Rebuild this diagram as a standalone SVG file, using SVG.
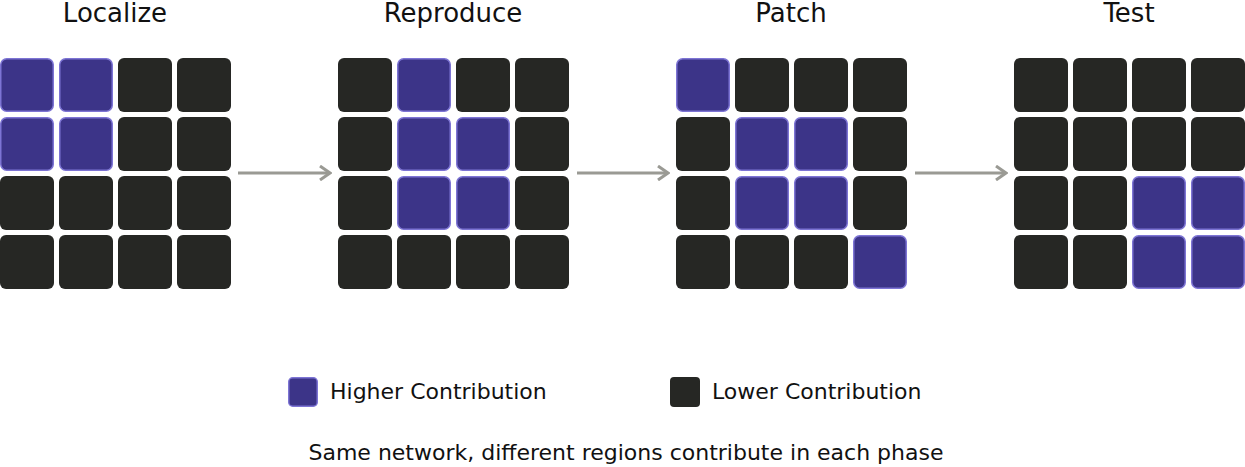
<svg xmlns="http://www.w3.org/2000/svg" width="1245" height="467" viewBox="0 0 1245 467">
<defs>
<style>
.h{fill:#3c3488;stroke:#7d74d4;stroke-width:1.5}
.l{fill:#262724}
.t{font-family:"DejaVu Sans",sans-serif;font-size:26px;fill:#111;text-anchor:middle}
.g{font-family:"DejaVu Sans",sans-serif;font-size:22px;fill:#111}
.a{stroke:#9a9a94;stroke-width:3;fill:none}
</style>
<symbol id="c"><rect width="54" height="54" rx="6"/></symbol>
<marker id="m" markerWidth="14" markerHeight="16" refX="12" refY="8" orient="auto" markerUnits="userSpaceOnUse"><path d="M2,1 L12,8 L2,15" fill="none" stroke="#9a9a94" stroke-width="3"/></marker>
</defs>
<rect width="1245" height="467" fill="#fff"/>
<g id="localize">
<text class="t" x="115" y="22">Localize</text>
<rect class="h" x="0.75" y="58.75" width="52.5" height="52.5" rx="6"/><rect class="h" x="59.75" y="58.75" width="52.5" height="52.5" rx="6"/><rect class="l" x="118" y="58" width="54" height="54" rx="6"/><rect class="l" x="177" y="58" width="54" height="54" rx="6"/>
<rect class="h" x="0.75" y="117.75" width="52.5" height="52.5" rx="6"/><rect class="h" x="59.75" y="117.75" width="52.5" height="52.5" rx="6"/><rect class="l" x="118" y="117" width="54" height="54" rx="6"/><rect class="l" x="177" y="117" width="54" height="54" rx="6"/>
<rect class="l" x="0" y="176" width="54" height="54" rx="6"/><rect class="l" x="59" y="176" width="54" height="54" rx="6"/><rect class="l" x="118" y="176" width="54" height="54" rx="6"/><rect class="l" x="177" y="176" width="54" height="54" rx="6"/>
<rect class="l" x="0" y="235" width="54" height="54" rx="6"/><rect class="l" x="59" y="235" width="54" height="54" rx="6"/><rect class="l" x="118" y="235" width="54" height="54" rx="6"/><rect class="l" x="177" y="235" width="54" height="54" rx="6"/>
</g>
<g id="reproduce">
<text class="t" x="453" y="22">Reproduce</text>
<rect class="l" x="338" y="58" width="54" height="54" rx="6"/><rect class="h" x="397.75" y="58.75" width="52.5" height="52.5" rx="6"/><rect class="l" x="456" y="58" width="54" height="54" rx="6"/><rect class="l" x="515" y="58" width="54" height="54" rx="6"/>
<rect class="l" x="338" y="117" width="54" height="54" rx="6"/><rect class="h" x="397.75" y="117.75" width="52.5" height="52.5" rx="6"/><rect class="h" x="456.75" y="117.75" width="52.5" height="52.5" rx="6"/><rect class="l" x="515" y="117" width="54" height="54" rx="6"/>
<rect class="l" x="338" y="176" width="54" height="54" rx="6"/><rect class="h" x="397.75" y="176.75" width="52.5" height="52.5" rx="6"/><rect class="h" x="456.75" y="176.75" width="52.5" height="52.5" rx="6"/><rect class="l" x="515" y="176" width="54" height="54" rx="6"/>
<rect class="l" x="338" y="235" width="54" height="54" rx="6"/><rect class="l" x="397" y="235" width="54" height="54" rx="6"/><rect class="l" x="456" y="235" width="54" height="54" rx="6"/><rect class="l" x="515" y="235" width="54" height="54" rx="6"/>
</g>
<g id="patch">
<text class="t" x="791" y="22">Patch</text>
<rect class="h" x="676.75" y="58.75" width="52.5" height="52.5" rx="6"/><rect class="l" x="735" y="58" width="54" height="54" rx="6"/><rect class="l" x="794" y="58" width="54" height="54" rx="6"/><rect class="l" x="853" y="58" width="54" height="54" rx="6"/>
<rect class="l" x="676" y="117" width="54" height="54" rx="6"/><rect class="h" x="735.75" y="117.75" width="52.5" height="52.5" rx="6"/><rect class="h" x="794.75" y="117.75" width="52.5" height="52.5" rx="6"/><rect class="l" x="853" y="117" width="54" height="54" rx="6"/>
<rect class="l" x="676" y="176" width="54" height="54" rx="6"/><rect class="h" x="735.75" y="176.75" width="52.5" height="52.5" rx="6"/><rect class="h" x="794.75" y="176.75" width="52.5" height="52.5" rx="6"/><rect class="l" x="853" y="176" width="54" height="54" rx="6"/>
<rect class="l" x="676" y="235" width="54" height="54" rx="6"/><rect class="l" x="735" y="235" width="54" height="54" rx="6"/><rect class="l" x="794" y="235" width="54" height="54" rx="6"/><rect class="h" x="853.75" y="235.75" width="52.5" height="52.5" rx="6"/>
</g>
<g id="test">
<text class="t" x="1129" y="22">Test</text>
<rect class="l" x="1014" y="58" width="54" height="54" rx="6"/><rect class="l" x="1073" y="58" width="54" height="54" rx="6"/><rect class="l" x="1132" y="58" width="54" height="54" rx="6"/><rect class="l" x="1191" y="58" width="54" height="54" rx="6"/>
<rect class="l" x="1014" y="117" width="54" height="54" rx="6"/><rect class="l" x="1073" y="117" width="54" height="54" rx="6"/><rect class="l" x="1132" y="117" width="54" height="54" rx="6"/><rect class="l" x="1191" y="117" width="54" height="54" rx="6"/>
<rect class="l" x="1014" y="176" width="54" height="54" rx="6"/><rect class="l" x="1073" y="176" width="54" height="54" rx="6"/><rect class="h" x="1132.75" y="176.75" width="52.5" height="52.5" rx="6"/><rect class="h" x="1191.75" y="176.75" width="52.5" height="52.5" rx="6"/>
<rect class="l" x="1014" y="235" width="54" height="54" rx="6"/><rect class="l" x="1073" y="235" width="54" height="54" rx="6"/><rect class="h" x="1132.75" y="235.75" width="52.5" height="52.5" rx="6"/><rect class="h" x="1191.75" y="235.75" width="52.5" height="52.5" rx="6"/>
</g>
<g id="connectors">
<line class="a" x1="238" y1="173" x2="330" y2="173" marker-end="url(#m)"/>
<line class="a" x1="577" y1="173" x2="668" y2="173" marker-end="url(#m)"/>
<line class="a" x1="915" y1="173" x2="1006" y2="173" marker-end="url(#m)"/>
</g>
<g id="legend">
<rect class="h" x="288.75" y="377.75" width="28.5" height="28.5" rx="4"/>
<text class="g" x="330" y="399">Higher Contribution</text>
<rect class="l" x="670" y="377" width="30" height="30" rx="4"/>
<text class="g" x="712" y="399">Lower Contribution</text>
<text class="g" x="626" y="460" text-anchor="middle">Same network, different regions contribute in each phase</text>
</g>
</svg>
